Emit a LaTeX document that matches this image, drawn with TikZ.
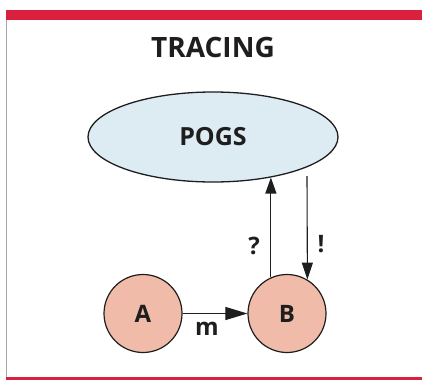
\documentclass[tikz,border=0pt]{standalone}
\usepackage{fontspec}
\setmainfont{Open Sans}
\usetikzlibrary{arrows.meta,shapes.geometric}
\definecolor{barred}{HTML}{D9213F}
\definecolor{pogsblue}{HTML}{DDEBF3}
\definecolor{procpink}{HTML}{F1BBAA}
\definecolor{inkblack}{HTML}{1E1E1E}
\tikzset{
  proc/.style={circle, draw=inkblack, line width=1.2pt, fill=procpink,
    minimum size=78pt, inner sep=0pt, font=\fontsize{24}{24}\selectfont\bfseries, text=inkblack},
  store/.style={ellipse, draw=inkblack, line width=1.3pt, fill=pogsblue,
    minimum width=250pt, minimum height=90pt, inner sep=0pt,
    font=\fontsize{25}{25}\selectfont\bfseries, text=inkblack},
  msg/.style={draw=inkblack, line width=1.1pt},
  lbl/.style={font=\fontsize{24}{24}\selectfont\bfseries, text=inkblack, inner sep=0pt}
}
\begin{document}
\begin{tikzpicture}[x=1pt,y=-1pt]
  \useasboundingbox (0,0) rectangle (422,380);
  \fill[white] (0,0) rectangle (422,380);
  % frame: red bar on top, grey rule on the left, red rule at the foot
  \fill[barred] (6,10) rectangle (422,20);
  \fill[barred] (6,377) rectangle (422,380);
  \draw[gray!70, line width=1pt] (6.5,20) -- (6.5,377);
  % title
  \node[font=\fontsize{28}{28}\selectfont\bfseries, text=inkblack] (title) at (213,47) {TRACING};
  % nodes
  \node[store] (pogs) at (213,137) {POGS};
  \node[proc] (a) at (143,313.5) {A};
  \node[proc] (b) at (287,313.5) {B};
  % messages
  \draw[msg, -{Triangle[length=22pt,width=13pt]}] (a) -- (b);
  \node[lbl] (m) at (207,329) {m};
  \draw[msg, -{Triangle[length=16pt,width=11pt]}]
    (b.114) -- (b.114 |- pogs.-35);
  \coordinate (replyfrom) at (307,176);
  \draw[msg, -{Triangle[length=17pt,width=11pt]}]
    (replyfrom) -- (b.59);
  \node[lbl] (q) at (254,246) {?};
  \node[lbl] (ex) at (321,244) {!};
\end{tikzpicture}
\end{document}
